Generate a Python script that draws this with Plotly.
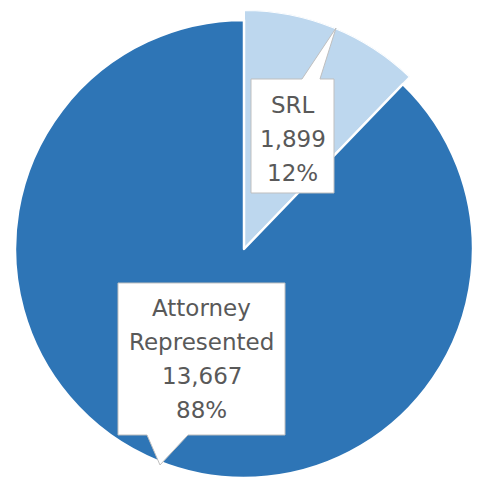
import math
import plotly.graph_objects as go

# Case counts by representation type
labels = ["SRL", "Attorney Represented"]
counts = [1899, 13667]
slice_colors = ["#BDD7EE", "#2E75B6"]

W, H = 482, 479
total = sum(counts)
shares = [c / total for c in counts]
srl_span = shares[0] * 360.0          # angular size of the SRL slice

CX, CY = 244, 249                     # pie centre (px)
R_MAIN = 229                          # radius of the attorney slice
R_SRL = 239                           # the SRL slice stands out a little further

TEXT_COLOR = "#595959"
FONT = dict(family="DejaVu Sans", size=23, color=TEXT_COLOR)


def to_paper(x, y):
    return x / W, 1 - y / H


fig = go.Figure()

# Attorney-represented slice (SRL portion left empty here)
fig.add_trace(go.Pie(
    labels=labels,
    values=counts,
    sort=False,
    direction="clockwise",
    rotation=0,
    marker=dict(colors=["rgba(0,0,0,0)", slice_colors[1]],
                line=dict(color="white", width=[0, 2.5])),
    textinfo="none",
    hoverinfo="skip",
    showlegend=False,
    domain=dict(x=[(CX - R_MAIN) / W, (CX + R_MAIN) / W],
                y=[1 - (CY + R_MAIN) / H, 1 - (CY - R_MAIN) / H]),
))

# SRL slice on its own polar sector so it can have the larger radius
fig.add_trace(go.Barpolar(
    r=[1],
    theta=[srl_span / 2],
    width=[srl_span],
    marker=dict(color=slice_colors[0], line=dict(color="white", width=2)),
    subplot="polar",
    hoverinfo="skip",
    showlegend=False,
))

sector_lo = 90 - srl_span
bbox_w = math.cos(math.radians(sector_lo)) * R_SRL
pad = 10
fig.update_layout(
    polar=dict(
        domain=dict(x=[(CX - pad) / W, (CX + bbox_w + pad) / W],
                    y=[1 - CY / H, 1 - (CY - R_SRL) / H]),
        sector=[sector_lo, 90],
        bgcolor="rgba(0,0,0,0)",
        radialaxis=dict(visible=False, range=[0, 1]),
        angularaxis=dict(visible=False, rotation=90, direction="clockwise"),
    )
)


def callout_path(points):
    pts = [to_paper(x, y) for x, y in points]
    return "M " + " L ".join(f"{x:.5f},{y:.5f}" for x, y in pts) + " Z"


# Callout boxes with pointer tails
srl_box = [(251, 79), (302, 79), (336, 28), (320, 79), (334, 79),
           (334, 193), (251, 193)]
att_box = [(118, 283), (285, 283), (285, 435), (188, 435), (160, 465),
           (147, 435), (118, 435)]

shapes = []
for pts in (srl_box, att_box):
    shapes.append(dict(type="path", xref="paper", yref="paper",
                       path=callout_path(pts), fillcolor="white",
                       line=dict(color="#BFBFBF", width=1), layer="above"))


def label_lines(i):
    return labels[i].split(" ") + [f"{counts[i]:,}", f"{round(shares[i] * 100)}%"]


annotations = []
line_pos = {
    0: (292.5, [105, 139, 173]),
    1: (201.5, [308, 342, 376, 410]),
}
for i, (x, ys) in line_pos.items():
    for text, y in zip(label_lines(i), ys):
        px_, py_ = to_paper(x, y)
        annotations.append(dict(x=px_, y=py_, xref="paper", yref="paper",
                                text=text, showarrow=False, font=FONT,
                                xanchor="center", yanchor="middle"))

fig.update_layout(
    width=W, height=H,
    margin=dict(l=0, r=0, t=0, b=0),
    paper_bgcolor="white",
    plot_bgcolor="white",
    shapes=shapes,
    annotations=annotations,
    showlegend=False,
)

fig.write_html("out.html")
